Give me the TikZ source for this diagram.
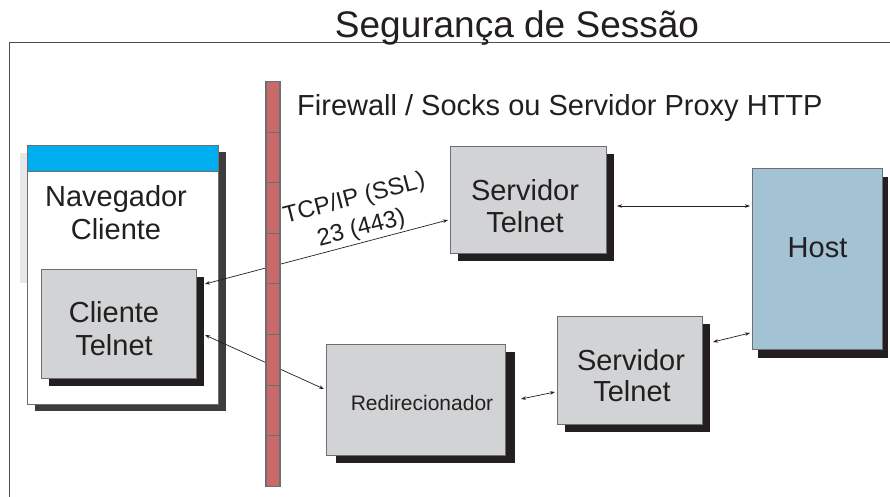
\documentclass[tikz,border=0pt]{standalone}
\usepackage{fontspec}
\setmainfont{Liberation Sans}
\usetikzlibrary{arrows.meta,shadows}
\definecolor{txt}{HTML}{231F20}
\definecolor{boxgray}{HTML}{D1D3D4}
\definecolor{edge}{HTML}{6D6E71}
\definecolor{barblue}{HTML}{00AEEF}
\definecolor{hostblue}{HTML}{A3C2D3}
\definecolor{brick}{HTML}{C8696A}
\definecolor{shdark}{HTML}{231F20}
\definecolor{shmid}{HTML}{3D3D3D}
\definecolor{strip}{HTML}{E6E7E8}
\begin{document}
\begin{tikzpicture}[x=1pt,y=-1pt,
  box/.style={draw=edge,line width=0.8pt,fill=boxgray,inner sep=0pt,outer sep=0pt},
  shad/.style={drop shadow={shadow xshift=#1,shadow yshift=-8pt,fill=shdark,opacity=1}},
  lbl/.style={text=txt,anchor=base,inner sep=0pt,font=\fontsize{29}{33}\selectfont},
  small/.style={text=txt,anchor=base,inner sep=0pt,font=\fontsize{21}{25}\selectfont},
  conn/.style={draw=txt,line width=0.7pt,{Stealth[length=5pt,width=3.5pt]}-{Stealth[length=5pt,width=3.5pt]}},
  brickbox/.style={draw=edge,line width=1.1pt,fill=brick,inner sep=0pt,outer sep=0pt,minimum width=14pt,minimum height=50.6pt}
]
\useasboundingbox (0,0) rectangle (890,497);
\fill[white] (0,0) rectangle (890,497);
% frame
\draw[draw=txt!80,line width=0.9pt] (9,497) -- (9,42) -- (890,42);
% title
\node[text=txt,anchor=base,inner sep=0pt,font=\fontsize{37}{40}\selectfont] (title) at (517,38) {Segurança de Sessão};
\node[text=txt,anchor=base west,inner sep=0pt,font=\fontsize{29}{33}\selectfont] (fwlbl) at (297,116) {Firewall / Socks ou Servidor Proxy HTTP};

% browser window
\fill[strip] (20,153) rectangle (27,283);
\node[draw=edge,line width=0.8pt,fill=white,inner sep=0pt,outer sep=0pt,minimum width=191pt,minimum height=259pt,
  drop shadow={shadow xshift=8pt,shadow yshift=-7pt,fill=shmid,opacity=1}] (nav) at (122.5,274.5) {};
\node[draw=edge,line width=0.8pt,fill=barblue,inner sep=0pt,outer sep=0pt,minimum width=191pt,minimum height=26pt,anchor=north west] (navbar) at (nav.north west) {};
\node[lbl] (nav1) at (116,206) {Navegador};
\node[lbl] (nav2) at (116,239) {Cliente};

% client telnet
\node[box,shad=8pt,minimum width=155pt,minimum height=109pt] (cli) at (118.5,323.5) {};
\node[lbl] (cli1) at (114,322.5) {Cliente};
\node[lbl] (cli2) at (114,355) {Telnet};

% top server
\node[box,shad=8pt,minimum width=156pt,minimum height=107pt] (srv1) at (528,199.5) {};
\node[lbl] (srv1a) at (525,200) {Servidor};
\node[lbl] (srv1b) at (525,232) {Telnet};

% host
\node[draw=edge,line width=0.8pt,fill=hostblue,inner sep=0pt,outer sep=0pt,minimum width=130pt,minimum height=181pt,
  drop shadow={shadow xshift=6pt,shadow yshift=-9pt,fill=shdark,opacity=1}] (host) at (817,258.5) {};
\node[lbl] (hostl) at (817.5,257) {Host};

% lower server
\node[box,shad=8pt,minimum width=145pt,minimum height=108pt] (srv2) at (629.5,370) {};
\node[lbl] (srv2a) at (631,370) {Servidor};
\node[lbl] (srv2b) at (632,401.5) {Telnet};

% redirector
\node[box,shad=10pt,minimum width=179pt,minimum height=111pt] (red) at (415.5,399.5) {};
\node[small] (redl) at (422,410.5) {Redirecionador};

% connector end points
\coordinate (a1) at (205,284);
\coordinate (b1) at (448,220);
\coordinate (a2) at (205,335);
\coordinate (b2) at (324,389);
\coordinate (a3) at (521,399);
\coordinate (b3) at (555,392);
\coordinate (a4) at (713,342);
\coordinate (b4) at (750,333);
\coordinate (a5) at (617,206);
\coordinate (b5) at (750,206);
\draw[conn] (a1) -- (b1);
\draw[conn] (a2) -- (b2);
\draw[conn] (a3) -- (b3);
\draw[conn] (a4) -- (b4);
\draw[conn] (a5) -- (b5);

% connector label
\node[text=txt,anchor=base,inner sep=0pt,rotate=14.5,font=\fontsize{24}{28}\selectfont] (tcp1) at (356,205) {TCP/IP (SSL)};
\node[text=txt,anchor=base,inner sep=0pt,rotate=14.5,font=\fontsize{24}{28}\selectfont] (tcp2) at (363,235) {23 (443)};

% firewall bricks
\foreach \i in {0,...,7} {
  \node[brickbox,anchor=north west] (fw\i) at (266,{81.5+50.6*\i}) {};
}
\end{tikzpicture}
\end{document}
